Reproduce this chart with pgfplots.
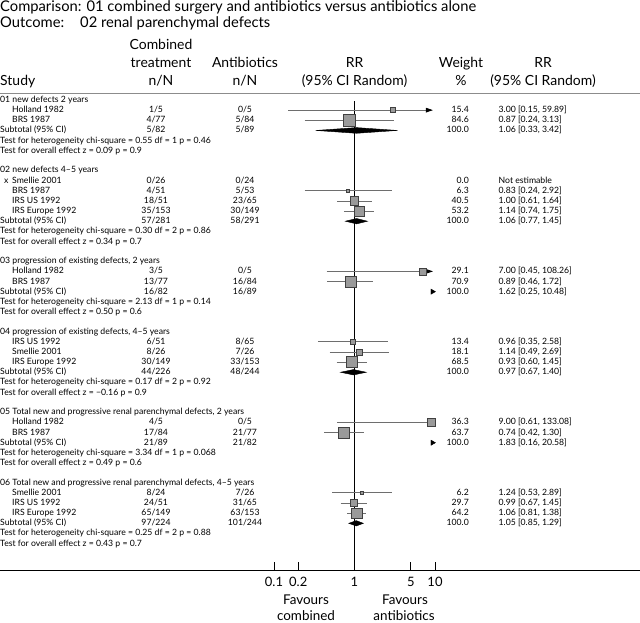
\documentclass[border=0pt]{standalone}
\usepackage{fontspec}
\setmainfont{Lato}
\usepackage{pgfplots}
\usepackage{pgfplotstable}
\pgfplotsset{compat=1.18}
\usetikzlibrary{arrows.meta}

\definecolor{cigray}{HTML}{6E6E6E}
\definecolor{boxgray}{HTML}{9A9A9A}
\definecolor{rulegray}{HTML}{8C8C8C}

% study squares: row position (px from top), RR, weight %
\pgfplotstableread{
y      rr    w
110.15 3.00  15.4
120.3  0.87  84.6
190.75 0.83  6.3
200.9  1.00  40.5
211.05 1.14  53.2
271.35 7.00  29.1
281.5  0.89  70.9
341.8  0.96  13.4
351.95 1.14  18.1
362.1  0.93  68.5
422.4  9.00  36.3
432.55 0.74  63.7
492.85 1.24  6.2
503.0  0.99  29.7
513.15 1.06  64.2
}\studies

\newcommand{\ci}[3]{\addplot[cigray, line width=0.8bp] coordinates {(#1,-#3) (#2,-#3)};}

\newcommand{\bodyf}{\fontsize{8.7}{10}\selectfont}
\newcommand{\hdrf}{\fontsize{14}{16}\selectfont}
\newcommand{\ttlf}{\fontsize{14.8}{17}\selectfont}
\newcommand{\favf}{\fontsize{13.5}{15}\selectfont}
\tikzset{b/.style={font=\bodyf, inner sep=0pt}, h/.style={font=\hdrf, inner sep=0pt},
  t/.style={font=\ttlf, inner sep=0pt}, f/.style={font=\favf, inner sep=0pt}}

% text rows: y, name, n/N combined, n/N antibiotics, weight, RR text
\newcommand{\st}[6]{%
  \node[b, anchor=mid west] at (12,#1) {#2};
  \node[b, anchor=mid] at (156,#1) {#3};
  \node[b, anchor=mid] at (245,#1) {#4};
  \node[b, anchor=mid east] at (469,#1) {#5};
  \node[b, anchor=mid west] at (498.5,#1) {#6};}
\newcommand{\sub}[5]{%
  \node[b, anchor=mid west] at (0,#1) {Subtotal (95\% CI)};
  \node[b, anchor=mid] at (156,#1) {#2};
  \node[b, anchor=mid] at (245,#1) {#3};
  \node[b, anchor=mid east] at (469,#1) {#4};
  \node[b, anchor=mid west] at (498.5,#1) {#5};}
\newcommand{\tx}[2]{\node[b, anchor=mid west] at (0,#1) {#2};}

\begin{document}
\begin{tikzpicture}
\begin{axis}[
    at={(0,0)}, anchor=north west,
    width=640bp, height=570.7bp, scale only axis,
    xmode=log, xmin=3.947e-5, xmax=3521,
    ymin=-570.7, ymax=0,
    enlargelimits=false,
    axis x line=bottom,
    hide y axis,
    x axis line style={-, black, line width=0.8bp},
    xtick={0.1,0.2,1,5,10},
    xticklabels={0.1,0.2,1,5,10},
    minor tick num=0,
    tick align=inside,
    major tick length=9bp,
    tick style={black, line width=0.6bp},
    xticklabel style={font=\fontsize{13}{15}\selectfont, anchor=base, yshift=-15.5bp},
    clip=false,
]
% line of no effect
\addplot[black, line width=0.8bp] coordinates {(1,-101) (1,-570.7)};

% confidence intervals
\addplot[cigray, line width=0.8bp, -{Triangle[length=7bp,width=4.5bp,color=black]}]
  coordinates {(0.15,-110.15) (9.44,-110.15)};
\ci{0.24}{3.13}{120.3}
\ci{0.24}{2.92}{190.75}
\ci{0.61}{1.64}{200.9}
\ci{0.74}{1.75}{211.05}
\addplot[cigray, line width=0.8bp, -{Triangle[length=7bp,width=4.5bp,color=black]}]
  coordinates {(0.45,-271.35) (9.44,-271.35)};
\ci{0.46}{1.72}{281.5}
\ci{0.35}{2.58}{341.8}
\ci{0.49}{2.69}{351.95}
\ci{0.60}{1.45}{362.1}
\ci{0.61}{10}{422.4}
\ci{0.42}{1.30}{432.55}
\ci{0.53}{2.89}{492.85}
\ci{0.67}{1.45}{503.0}
\ci{0.81}{1.38}{513.15}

% study boxes, side grows with weight
\addplot[scatter, only marks, mark=square*,
  scatter/use mapped color={draw=black!75, fill=boxgray},
  mark options={line width=0.5bp},
  visualization depends on={0.66*sqrt(\thisrow{w}) \as \ms},
  scatter/@pre marker code/.append style={/tikz/mark size=\ms}]
  table[x=rr, y expr=-\thisrow{y}] {\studies};

% pooled estimates
\addplot[black, fill=black] coordinates {(0.33,-130.45) (1.06,-127.6) (3.42,-130.45) (1.06,-133.3)} -- cycle;
\addplot[black, fill=black] coordinates {(0.77,-221.2) (1.06,-218.5) (1.45,-221.2) (1.06,-223.9)} -- cycle;
\addplot[black, fill=black] coordinates {(0.67,-372.25) (0.97,-369.55) (1.40,-372.25) (0.97,-374.95)} -- cycle;
\addplot[black, fill=black] coordinates {(0.85,-523.3) (1.05,-520.6) (1.29,-523.3) (1.05,-526.0)} -- cycle;
% pooled estimates off the scale
\addplot[only marks, mark=triangle*, mark size=3bp, mark options={rotate=-90, black, fill=black}]
  coordinates {(9.3,-291.65) (9.3,-442.7)};
\end{axis}

\begin{scope}[x=1bp, y=-1bp]
\node[t, anchor=mid west] at (0,9) {Comparison: 01 combined surgery and antibiotics versus antibiotics alone};
\node[t, anchor=mid west] at (0,24.5) {Outcome:};
\node[t, anchor=mid west] at (80,24.5) {02 renal parenchymal defects};

\node[h, anchor=mid] at (161,46.5) {Combined};
\node[h, anchor=mid] at (161,64.5) {treatment};
\node[h, anchor=mid] at (161,82.5) {n/N};
\node[h, anchor=mid] at (245,64.5) {Antibiotics};
\node[h, anchor=mid] at (245,82.5) {n/N};
\node[h, anchor=mid] at (354.5,64.5) {RR};
\node[h, anchor=mid] at (354.5,82.5) {(95\% CI Random)};
\node[h, anchor=mid] at (461,64.5) {Weight};
\node[h, anchor=mid] at (461,82.5) {\%};
\node[h, anchor=mid] at (543,64.5) {RR};
\node[h, anchor=mid] at (543,82.5) {(95\% CI Random)};
\node[h, anchor=mid west] at (0,82.5) {Study};
\draw[rulegray, line width=1.5bp] (0,93.5) -- (640,93.5);

\tx{100}{01 new defects 2 years}
\st{110.15}{Holland 1982}{1/5}{0/5}{15.4}{3.00 [0.15, 59.89]}
\st{120.3}{BRS 1987}{4/77}{5/84}{84.6}{0.87 [0.24, 3.13]}
\sub{130.45}{5/82}{5/89}{100.0}{1.06 [0.33, 3.42]}
\tx{140.6}{Test for heterogeneity chi-square = 0.55 df = 1 p = 0.46}
\tx{150.75}{Test for overall effect z = 0.09 p = 0.9}

\tx{170.45}{02 new defects 4–5 years}
\node[b, anchor=mid west] at (4,180.6) {x};
\st{180.6}{Smellie 2001}{0/26}{0/24}{0.0}{Not estimable}
\st{190.75}{BRS 1987}{4/51}{5/53}{6.3}{0.83 [0.24, 2.92]}
\st{200.9}{IRS US 1992}{18/51}{23/65}{40.5}{1.00 [0.61, 1.64]}
\st{211.05}{IRS Europe 1992}{35/153}{30/149}{53.2}{1.14 [0.74, 1.75]}
\sub{221.2}{57/281}{58/291}{100.0}{1.06 [0.77, 1.45]}
\tx{231.35}{Test for heterogeneity chi-square = 0.30 df = 2 p = 0.86}
\tx{241.5}{Test for overall effect z = 0.34 p = 0.7}

\tx{261.2}{03 progression of existing defects, 2 years}
\st{271.35}{Holland 1982}{3/5}{0/5}{29.1}{7.00 [0.45, 108.26]}
\st{281.5}{BRS 1987}{13/77}{16/84}{70.9}{0.89 [0.46, 1.72]}
\sub{291.65}{16/82}{16/89}{100.0}{1.62 [0.25, 10.48]}
\tx{301.8}{Test for heterogeneity chi-square = 2.13 df = 1 p = 0.14}
\tx{311.95}{Test for overall effect z = 0.50 p = 0.6}

\tx{331.65}{04 progression of existing defects, 4–5 years}
\st{341.8}{IRS US 1992}{6/51}{8/65}{13.4}{0.96 [0.35, 2.58]}
\st{351.95}{Smellie 2001}{8/26}{7/26}{18.1}{1.14 [0.49, 2.69]}
\st{362.1}{IRS Europe 1992}{30/149}{33/153}{68.5}{0.93 [0.60, 1.45]}
\sub{372.25}{44/226}{48/244}{100.0}{0.97 [0.67, 1.40]}
\tx{382.4}{Test for heterogeneity chi-square = 0.17 df = 2 p = 0.92}
\tx{392.55}{Test for overall effect z = −0.16 p = 0.9}

\tx{412.25}{05 Total new and progressive renal parenchymal defects, 2 years}
\st{422.4}{Holland 1982}{4/5}{0/5}{36.3}{9.00 [0.61, 133.08]}
\st{432.55}{BRS 1987}{17/84}{21/77}{63.7}{0.74 [0.42, 1.30]}
\sub{442.7}{21/89}{21/82}{100.0}{1.83 [0.16, 20.58]}
\tx{452.85}{Test for heterogeneity chi-square = 3.34 df = 1 p = 0.068}
\tx{463.0}{Test for overall effect z = 0.49 p = 0.6}

\tx{482.7}{06 Total new and progressive renal parenchymal defects, 4–5 years}
\st{492.85}{Smellie 2001}{8/24}{7/26}{6.2}{1.24 [0.53, 2.89]}
\st{503.0}{IRS US 1992}{24/51}{31/65}{29.7}{0.99 [0.67, 1.45]}
\st{513.15}{IRS Europe 1992}{65/149}{63/153}{64.2}{1.06 [0.81, 1.38]}
\sub{523.3}{97/224}{101/244}{100.0}{1.05 [0.85, 1.29]}
\tx{533.45}{Test for heterogeneity chi-square = 0.25 df = 2 p = 0.88}
\tx{543.6}{Test for overall effect z = 0.43 p = 0.7}

\node[f, anchor=mid] at (306,601.7) {Favours};
\node[f, anchor=mid] at (306,618) {combined};
\node[f, anchor=mid] at (405,601.7) {Favours};
\node[f, anchor=mid] at (404,618) {antibiotics};

\pgfresetboundingbox
\useasboundingbox (0,0) rectangle (640,623);
\end{scope}
\end{tikzpicture}
\end{document}
